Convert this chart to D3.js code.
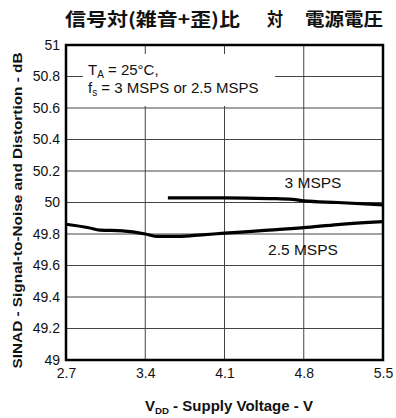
<!DOCTYPE html>
<html><head><meta charset="utf-8">
<script src="https://cdn.jsdelivr.net/npm/d3@7"></script>
<style>
html,body{margin:0;padding:0;background:#fff;}
svg{display:block;font-family:"Liberation Sans",Arial,Helvetica,sans-serif;}
</style></head>
<body>
<script>
const xTicks = [2.7, 3.4, 4.1, 4.8, 5.5];
const yTicks = [49, 49.2, 49.4, 49.6, 49.8, 50, 50.2, 50.4, 50.6, 50.8, 51];
const v3 = [3.6, 4.1, 4.5, 4.7, 4.8, 5.1, 5.5];
const s3 = [50.03, 50.03, 50.025, 50.02, 50.01, 50.0, 49.985];
const v25 = [2.7, 2.9, 3.0, 3.2, 3.4, 3.5, 3.7, 3.9, 4.1, 4.4, 4.8, 5.1, 5.5];
const s25 = [49.862, 49.84, 49.825, 49.82, 49.80, 49.785, 49.785, 49.795, 49.805, 49.82, 49.84, 49.86, 49.878];
const titleParts = ["信号対(雑音+歪)比", "対", "電源電圧"];

const W = 396, H = 418;
const m = {l: 66, r: 383, t: 45, b: 360};
const svg = d3.select("body").append("svg").attr("width", W).attr("height", H);
const x = d3.scaleLinear().domain([2.7, 5.5]).range([m.l, m.r]);
const y = d3.scaleLinear().domain([49, 51]).range([m.b, m.t]);

// grid
svg.append("g").selectAll("line").data(yTicks.slice(1, -1)).join("line")
  .attr("x1", m.l).attr("x2", m.r).attr("y1", d => y(d)).attr("y2", d => y(d))
  .attr("stroke", "#444").attr("stroke-width", 1);
svg.append("g").selectAll("line").data(xTicks.slice(1, -1)).join("line")
  .attr("y1", m.t).attr("y2", m.b).attr("x1", d => x(d)).attr("x2", d => x(d))
  .attr("stroke", "#444").attr("stroke-width", 1);

// annotation box
svg.append("rect").attr("x", 83).attr("y", 54).attr("width", 192).attr("height", 52).attr("fill", "#fff");
const ann = svg.append("text").attr("x", 88).attr("y", 75).attr("font-size", 15).attr("fill", "#111");
ann.append("tspan").text("T");
ann.append("tspan").attr("font-size", 10).attr("dy", 3).text("A");
ann.append("tspan").attr("dy", -3).text(" = 25°C,");
const ann2 = svg.append("text").attr("x", 88).attr("y", 93).attr("font-size", 15).attr("fill", "#111");
ann2.append("tspan").text("f");
ann2.append("tspan").attr("font-size", 10).attr("dy", 3).text("s");
ann2.append("tspan").attr("dy", -3).text(" = 3 MSPS or 2.5 MSPS");

// axes (tick labels)
const ax = d3.axisBottom(x).tickValues(xTicks).tickSize(0).tickPadding(8).tickFormat(d3.format(".1f"));
svg.append("g").attr("transform", `translate(0,${m.b})`).call(ax)
  .call(g => g.select(".domain").remove())
  .call(g => g.selectAll("text").attr("font-size", 14).attr("fill", "#111").attr("font-family", "Liberation Sans, Arial, sans-serif"));
const ay = d3.axisLeft(y).tickValues(yTicks).tickSize(0).tickPadding(6).tickFormat(d => d3.format("")(+d.toFixed(1)));
svg.append("g").attr("transform", `translate(${m.l},0)`).call(ay)
  .call(g => g.select(".domain").remove())
  .call(g => g.selectAll("text").attr("font-size", 14).attr("fill", "#111").attr("font-family", "Liberation Sans, Arial, sans-serif"));

// curves
const line = d3.line().x(d => x(d[0])).y(d => y(d[1])).curve(d3.curveMonotoneX);
svg.append("path").datum(v3.map((v, i) => [v, s3[i]])).attr("d", line)
  .attr("fill", "none").attr("stroke", "#000").attr("stroke-width", 3.2);
svg.append("path").datum(v25.map((v, i) => [v, s25[i]])).attr("d", line)
  .attr("fill", "none").attr("stroke", "#000").attr("stroke-width", 3.2);

// frame
svg.append("rect").attr("x", m.l).attr("y", m.t).attr("width", m.r - m.l).attr("height", m.b - m.t)
  .attr("fill", "none").attr("stroke", "#000").attr("stroke-width", 2.5);

// series labels
svg.append("text").attr("x", 313).attr("y", 188).attr("text-anchor", "middle").attr("font-size", 15.5).attr("fill", "#111").text("3 MSPS");
svg.append("text").attr("x", 303).attr("y", 255).attr("text-anchor", "middle").attr("font-size", 15.5).attr("fill", "#111").text("2.5 MSPS");

// title
const tpos = [[65, 175], [267, 16], [305, 78]];
titleParts.forEach((t, i) => {
  svg.append("text").attr("x", tpos[i][0]).attr("y", 26).attr("font-size", 18).attr("font-weight", "bold")
    .attr("font-family", "Noto Sans CJK JP, sans-serif").attr("textLength", tpos[i][1]).attr("lengthAdjust", "spacingAndGlyphs")
    .attr("fill", "#111").text(t);
});

// x axis title
const xt = svg.append("text").attr("x", 145).attr("y", 411)
  .attr("font-size", 14).attr("font-weight", "bold").attr("fill", "#111").attr("textLength", 168).attr("lengthAdjust", "spacingAndGlyphs");
xt.append("tspan").text("V");
xt.append("tspan").attr("font-size", 9).attr("dy", 3).text("DD");
xt.append("tspan").attr("dy", -3).text(" - Supply Voltage - V");

// y axis title
svg.append("text").attr("transform", `translate(22,${(m.t + m.b) / 2 + 8}) rotate(-90)`).attr("text-anchor", "middle")
  .attr("font-size", 13).attr("font-weight", "bold").attr("fill", "#111")
  .attr("textLength", 316).attr("lengthAdjust", "spacingAndGlyphs")
  .text("SINAD - Signal-to-Noise and Distortion - dB");
</script>
</body></html>
